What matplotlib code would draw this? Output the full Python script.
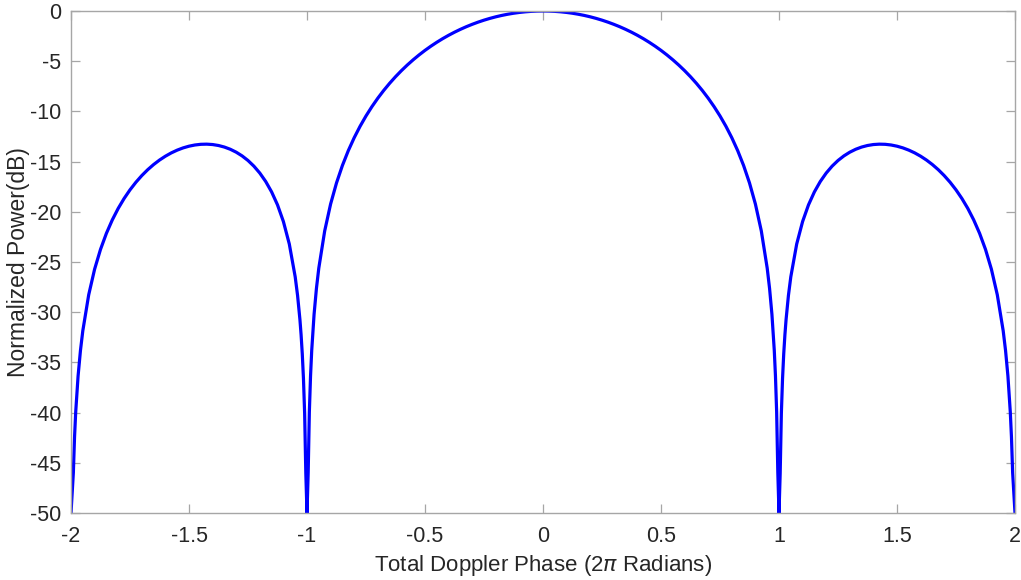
import matplotlib
matplotlib.use('Agg')
import matplotlib.pyplot as plt

# normalized doppler response, one side (0..2), mirrored for negative phase
phase_pos = [0.0, 0.025, 0.05, 0.075, 0.1, 0.125, 0.15, 0.175, 0.2, 0.225,
             0.25, 0.275, 0.3, 0.325, 0.35, 0.375, 0.4, 0.425, 0.45, 0.475,
             0.5, 0.525, 0.55, 0.575, 0.6, 0.625, 0.65, 0.675, 0.7, 0.725,
             0.75, 0.775, 0.8, 0.825, 0.85, 0.875, 0.9, 0.925, 0.95, 0.96,
             0.97, 0.98, 0.985, 0.99, 0.995, 1.0, 1.005, 1.01, 1.015, 1.02,
             1.025, 1.03, 1.04, 1.05, 1.075, 1.1, 1.125, 1.15, 1.175, 1.2,
             1.225, 1.25, 1.275, 1.3, 1.325, 1.35, 1.375, 1.4, 1.425, 1.45,
             1.475, 1.5, 1.525, 1.55, 1.575, 1.6, 1.625, 1.65, 1.675, 1.7,
             1.725, 1.75, 1.775, 1.8, 1.825, 1.85, 1.875, 1.9, 1.925, 1.95,
             1.96, 1.97, 1.98, 1.985, 1.99, 2.0]
power_pos = [0.0, -0.009, -0.036, -0.081, -0.143, -0.224, -0.324, -0.442, -0.579, -0.736,
             -0.912, -1.109, -1.327, -1.565, -1.827, -2.111, -2.420, -2.754, -3.115, -3.504,
             -3.922, -4.373, -4.858, -5.380, -5.942, -6.548, -7.204, -7.914, -8.686, -9.529,
             -10.454, -11.478, -12.621, -13.910, -15.390, -17.126, -19.228, -21.902, -25.610, -27.627,
             -30.206, -33.809, -36.350, -39.914, -45.978, -50.0, -46.065, -40.088, -36.611, -34.157,
             -32.265, -30.727, -28.323, -26.480, -23.208, -20.971, -19.309, -18.016, -16.982, -16.142,
             -15.455, -14.891, -14.432, -14.063, -13.772, -13.552, -13.397, -13.301, -13.263, -13.278,
             -13.346, -13.465, -13.635, -13.858, -14.132, -14.462, -14.848, -15.295, -15.808, -16.393,
             -17.058, -17.814, -18.676, -19.663, -20.807, -22.146, -23.746, -25.718, -28.268, -31.857,
             -33.827, -36.360, -39.918, -42.437, -45.979, -50.0]

phase = [-p for p in phase_pos[::-1]] + phase_pos[1:]
power = power_pos[::-1] + power_pos[1:]

x_ticks = [-2, -1.5, -1, -0.5, 0, 0.5, 1, 1.5, 2]
y_ticks = list(range(-50, 1, 5))

plt.rcParams['font.family'] = ['Liberation Sans', 'DejaVu Sans']

fig = plt.figure(figsize=(10.21, 5.80), dpi=100)
ax = fig.add_axes([71 / 1021, 1 - 513 / 580, 944 / 1021, 502 / 580])

ax.plot(phase, power, color='#0000ff', linewidth=2.3, solid_joinstyle='round')

ax.set_xlim(-2, 2)
ax.set_ylim(-50, 0)
ax.set_xticks(x_ticks)
ax.set_xticklabels(['%g' % t for t in x_ticks])
ax.set_yticks(y_ticks)
ax.set_yticklabels([str(v) for v in y_ticks])

for s in ax.spines.values():
    s.set_color('#a6a6a6')
    s.set_linewidth(1.0)
ax.tick_params(direction='in', length=6.5, width=0.9, color='#a6a6a6',
               labelcolor='#262626', labelsize=15.5, top=True, right=True)
ax.tick_params(axis='x', pad=9)
ax.tick_params(axis='y', pad=7)

ax.set_xlabel('Total Doppler Phase (2$\\pi$ Radians)', fontsize=16, color='#262626', labelpad=5)
ax.set_ylabel('Normalized Power(dB)', fontsize=16.5, color='#262626', labelpad=0)

plt.savefig('out.png', dpi=100)
plt.close()
